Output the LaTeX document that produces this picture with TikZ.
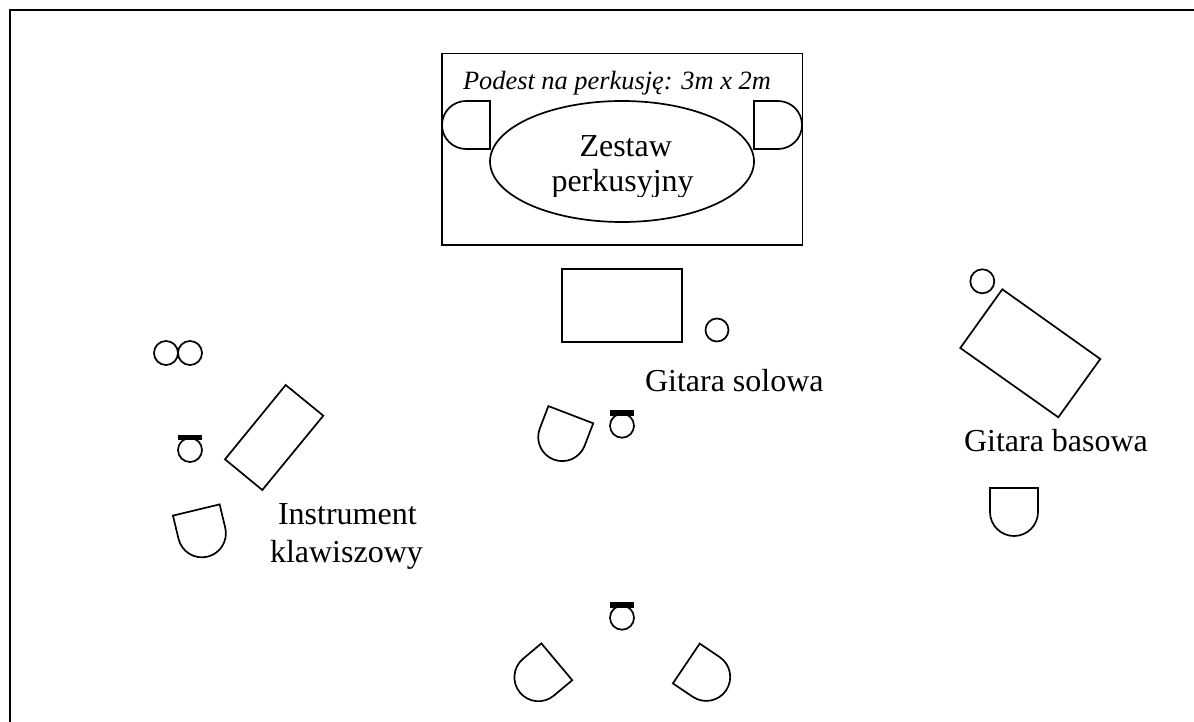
\documentclass[tikz,border=0pt]{standalone}
\usepackage{fontspec}
\setmainfont{Liberation Serif}
\tikzset{
  x=1pt,y=-1pt,
  outline/.style={draw=black,line width=1.7pt,line join=miter},
  lbl/.style={anchor=base west,inner sep=0pt,outer sep=0pt,font=\fontsize{32}{36}\selectfont},
  podlbl/.style={anchor=base west,inner sep=0pt,outer sep=0pt,font=\fontsize{26.4}{30}\selectfont\itshape},
  pics/seat/.style={code={
    \draw[outline] (-24,0) -- (24,0) -- (24,24) arc[start angle=0,end angle=-180,radius=24pt] -- cycle;
  }},
  pics/stool/.style={code={
    \draw[outline] (0,0) circle[radius=12pt];
    \fill[black] (-12,-15.5) rectangle (12,-10);
  }}
}
\begin{document}
\begin{tikzpicture}
\useasboundingbox (0,0) rectangle (1194,722);
\fill[white] (0,0) rectangle (1194,722);
% outer frame: top and left only, running off the picture
\begin{scope}
\clip (0,0) rectangle (1194,722);
\draw[draw=black,line width=2pt] (10,740) -- (10,10) -- (1200,10);
\end{scope}
% podium
\draw[outline] (442,53.5) rectangle (802.5,245);
\draw[outline] (622,161.5) ellipse[x radius=132pt,y radius=60.5pt];
\pic[rotate=-90] at (490,125) {seat};
\pic[rotate=90] at (754,125) {seat};
\node[podlbl] (podest) at (463,90) {Podest na perkusję: 3m x 2m};
\node[lbl] (zestaw) at (579.5,157) {Zestaw};
\begin{scope}
\clip (500,165) rectangle (740,197);
\node[lbl] (perk) at (551.5,192) {perkusyjny};
\end{scope}
% lead guitar
\draw[outline] (562,269) rectangle (682,342);
\draw[outline] (717,330) circle[radius=11.5pt];
\node[lbl] (solo) at (645,391) {Gitara solowa};
\pic[rotate=-21] at (570.8,414.7) {seat};
\pic at (622,425.7) {stool};
% bass
\draw[outline] (982.3,281.3) circle[radius=12pt];
\draw[outline] (1002.3,289.3) -- (1100.3,359) -- (1058.3,417.3) -- (960.3,348) -- cycle;
\node[lbl] (bas) at (964,451.5) {Gitara basowa};
\pic at (1014,488) {seat};
% keyboard
\draw[outline] (166,353) circle[radius=12pt];
\draw[outline] (190,353) circle[radius=12pt];
\draw[outline] (285.7,385) -- (323.3,415.7) -- (262.3,490) -- (225,459.3) -- cycle;
\pic at (190,450) {stool};
\pic[rotate=13.5] at (196.3,510) {seat};
\node[lbl] (instr) at (278,524) {Instrument};
\node[lbl] (klaw) at (270,562) {klawiszowy};
% bottom
\pic at (622,617.7) {stool};
\pic[rotate=-50] at (556.8,661.8) {seat};
\pic[rotate=56] at (686.3,663.5) {seat};
\end{tikzpicture}
\end{document}
